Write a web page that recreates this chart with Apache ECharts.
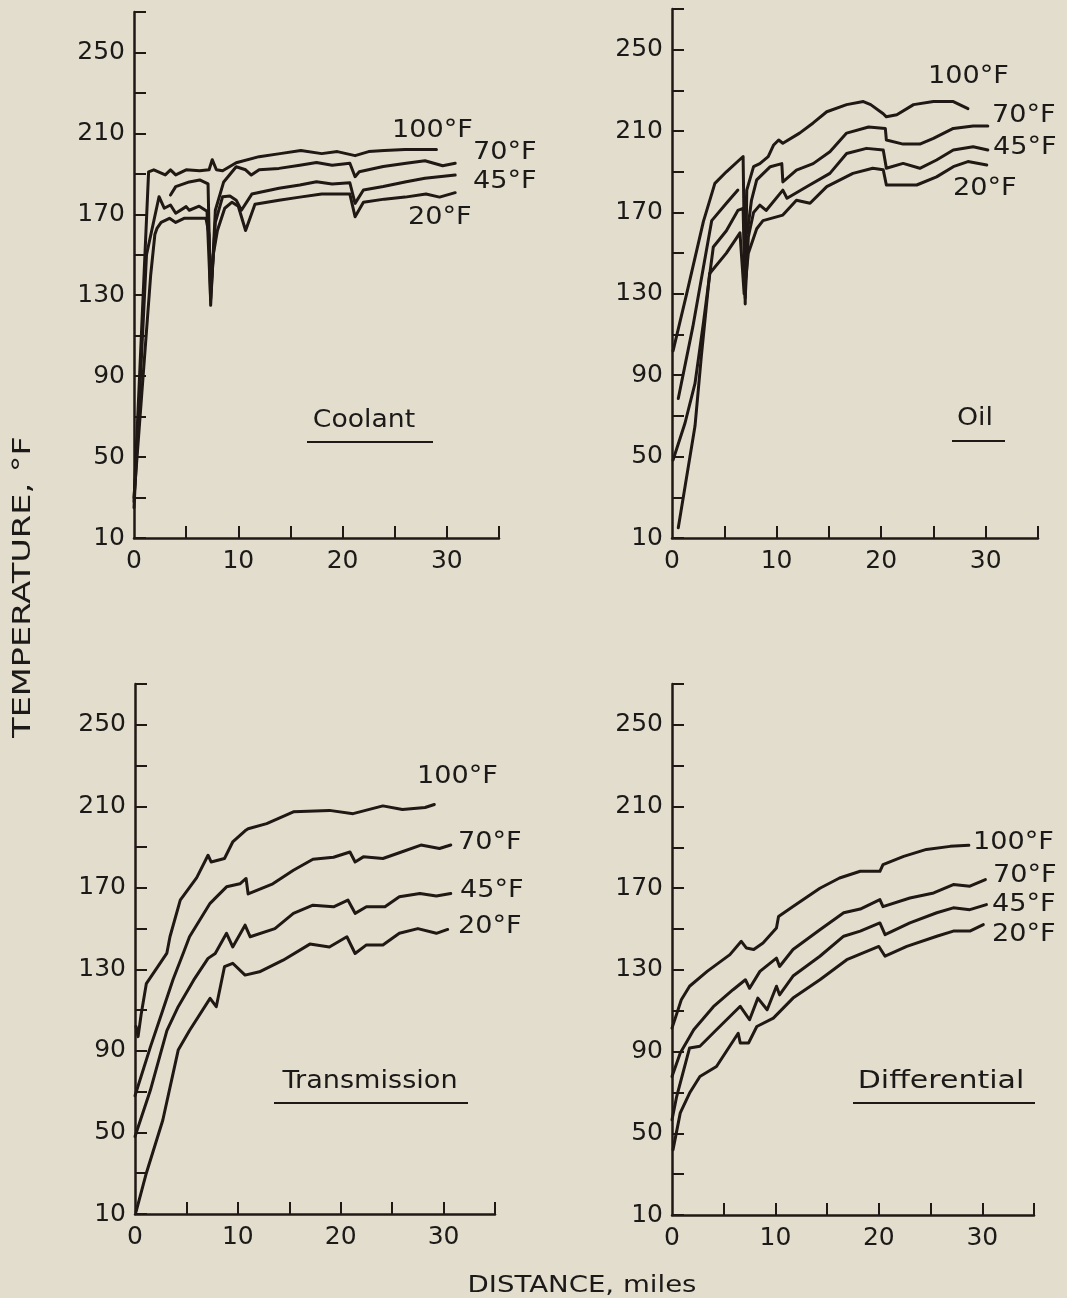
<!DOCTYPE html>
<html>
<head>
<meta charset="utf-8">
<script src="https://cdn.jsdelivr.net/npm/echarts@6/dist/echarts.min.js"></script>
<style>
html,body{margin:0;padding:0;background:#e3ddcd;}
#chart{width:1067px;height:1298px;}
</style>
</head>
<body>
<div id="chart"></div>
<script>
// ---- axis ticks / labels ----
const xTickValues = [5, 10, 15, 20, 25, 30, 35];
const xLabelValues = [0, 10, 20, 30];
const yTickValues = [10, 30, 50, 70, 90, 110, 130, 150, 170, 190, 210, 230, 250, 270];
const yLabelValues = [10, 50, 90, 130, 170, 210, 250];
const seriesNames = ['100°F', '70°F', '45°F', '20°F'];
const panelNames = ['Coolant', 'Oil', 'Transmission', 'Differential'];

// ---- Coolant [miles, °F] ----
const coolant100 = [[0,28],[1.4,191],[1.9,192],[3.0,189.5],[3.5,192],[4.0,189.5],[5.0,192],[6.3,191.5],[7.2,192],[7.5,197],[7.9,192],[8.5,191.5],[9.8,195.5],[12,198.5],[14,200],[16,201.5],[18,200],[19.5,201],[21.2,199],[22.5,201],[24,201.5],[26,202],[29,202]];
const coolant70 = [[3.5,179.5],[4.0,183.7],[5.3,186],[6.3,187],[7.1,185],[7.35,125],[7.8,172],[8.6,186],[9.8,193.5],[10.7,192],[11.25,189.4],[12.0,192],[13.9,192.7],[15.9,194.3],[17.5,195.6],[19.0,194.3],[20.7,195.2],[21.2,188.6],[21.6,191],[23.9,193.6],[26.1,195.2],[27.9,196.5],[29.6,194],[30.8,195.2]];
const coolant45 = [[0,25],[1.2,150],[2.4,178.7],[2.9,173],[3.5,174.6],[4.0,170.5],[5.0,173.8],[5.3,172],[6.25,174],[7.0,171.5],[7.35,128],[7.8,166],[8.5,178.7],[9.2,179],[9.8,177],[10.3,172],[11.3,180],[13.9,182.9],[15.9,184.5],[17.5,186.1],[19.0,185],[20.7,185.6],[21.2,175.4],[22.0,182],[23.9,183.7],[26.1,186.1],[27.9,187.8],[30.8,189.4]];
const coolant20 = [[0,30],[1.6,140],[2.0,160],[2.2,163],[2.6,166],[3.4,168],[4.0,166],[4.8,168],[6.9,168],[7.2,160],[7.35,132],[7.6,150],[8.0,162],[8.7,173],[9.4,176],[10.0,174],[10.7,162],[11.6,175],[13.9,177],[15.9,178.5],[18,180],[20.7,180],[21.2,168.8],[22,176],[24,177.5],[26,178.5],[28,180],[29.3,178.5],[30.8,180.7]];

// ---- Oil ----
const oil100 = [[0.1,102],[1.4,130],[3.0,165.5],[4.1,184.3],[5.2,190],[6.8,197.5],[7.0,125],[7.15,181],[7.8,192.5],[8.4,194],[9.2,197.4],[9.7,203],[10.2,205.6],[10.6,204],[12.2,209],[13.5,214],[14.8,219.5],[16.7,223],[18.3,224.5],[19.0,223],[20.2,218.5],[20.5,217],[21.5,218],[23.1,223],[25.0,224.5],[26.9,224.5],[28.3,221]];
const oil70 = [[0.6,78.6],[2.0,114],[3.0,143],[3.8,166],[5.2,174.5],[6.3,181],[6.6,null],[7.2,160],[7.6,176],[8.1,186],[9.4,192.5],[10.5,194],[10.6,185],[11.9,190.8],[13.5,194],[15.1,199.8],[16.7,209],[18.8,212],[20.4,211.3],[20.5,205.6],[22.1,203.6],[23.7,203.6],[25.0,206.4],[26.9,211.3],[28.8,212.5],[30.2,212.5]];
const oil45 = [[0.1,48.3],[1.24,66.4],[2.2,86],[3.0,115.6],[3.95,153],[5.2,161],[6.3,171],[6.8,172],[7.0,128],[7.3,158],[7.8,170],[8.4,173.6],[9.0,171],[10.6,181],[11.0,177],[13.0,183],[15.1,189.2],[16.7,199],[18.6,201.5],[20.2,200.7],[20.5,191.7],[22.1,194.1],[23.7,191.7],[25.3,195.8],[26.9,200.7],[28.8,202.3],[30.2,200.7]];
const oil20 = [[0.6,15],[2.2,65],[2.8,99],[3.6,140],[5.2,150],[6.5,160],[6.9,130],[7.3,150],[8.1,162],[8.7,166],[10.6,168.7],[11.9,176],[13.2,174.5],[14.8,182.7],[17.3,189.2],[19.2,191.7],[20.2,191],[20.5,183.5],[23.4,183.5],[25.3,187.5],[26.9,192.5],[28.3,195],[30.1,193.3]];

// ---- Transmission ----
const trans100 = [[0.1,102],[0.3,97],[0.6,108],[1.1,123],[2.3,132],[3.1,138],[3.4,146],[4.4,164],[6.0,175],[7.1,186],[7.4,182.7],[8.7,184.4],[9.5,192.5],[10.7,198],[11.0,199],[12.8,201.5],[15.4,207.3],[18.9,208],[21.2,206.4],[24.1,210.2],[26.0,208.4],[28.2,209.4],[29.1,210.9]];
const trans70 = [[0,68],[1.5,92],[2.7,110],[3.7,125],[4.7,138],[5.3,146],[7.3,162.4],[8.9,170.5],[10.2,172],[10.8,174.6],[11.0,167],[13.4,172],[15.4,178.6],[17.3,184],[19.3,185],[20.9,187.6],[21.4,182.7],[22.2,185.2],[24.1,184.4],[25.7,187.2],[27.8,191],[29.6,189.3],[30.7,191]];
const trans45 = [[0,48],[1.5,70.8],[3.1,100],[4.2,111.7],[5.7,124.7],[7.1,135.4],[7.8,137.8],[8.9,147.7],[9.5,141],[10.7,151.7],[11.2,146],[13.6,150],[15.4,157.5],[17.3,161.5],[19.3,160.7],[20.7,164],[21.4,157.5],[22.5,160.7],[24.3,160.7],[25.7,165.6],[27.7,167.2],[29.3,166],[30.7,167.2]];
const trans20 = [[0.1,11],[1.1,30],[2.7,56],[4.2,90.4],[5.3,100],[7.3,115.8],[7.9,111.7],[8.7,131.3],[9.5,133],[10.7,127.2],[12.1,128.8],[14.4,134.5],[17.0,142.4],[18.9,141],[20.6,146],[21.4,137.8],[22.5,142],[24.1,142],[25.7,147.7],[27.5,150],[29.3,147.7],[30.4,149.6]];

// ---- Differential ----
const diff100 = [[0,101.5],[0.9,115.4],[1.7,122],[3.4,129.3],[5.6,137.5],[6.7,144],[7.2,140.7],[7.9,140],[8.8,143.2],[10.1,150.5],[10.3,156.2],[11.7,161],[14.3,170],[16.2,175],[18.2,178.3],[20.1,178.3],[20.4,181.6],[22.4,185.6],[24.6,189],[26.9,190.5],[28.7,191]];
const diff70 = [[0,77.8],[0.8,89.3],[2.1,100.7],[4.0,112],[5.9,120.3],[7.1,125.2],[7.5,121],[8.5,129.3],[10.1,135.8],[10.4,131.7],[11.7,140],[14.3,149.7],[16.6,158],[18.2,159.8],[20.1,164.4],[20.4,161],[23.0,165.2],[25.3,167.7],[27.2,171.8],[28.8,171],[30.3,174.2]];
const diff45 = [[0,56.6],[0.45,68],[1.7,91.8],[2.7,92.6],[4.3,100.7],[6.6,112.2],[7.5,105.6],[8.3,116.2],[9.2,110.5],[10.1,122],[10.4,117.8],[11.7,127],[14.3,136.7],[16.6,146.5],[18.2,149],[20.1,153],[20.6,147.3],[23.0,153],[25.6,158],[27.2,160.4],[28.8,159.5],[30.4,162]];
const diff20 = [[0.1,42],[0.8,60],[1.7,69.7],[2.7,77.8],[4.3,82.7],[6.4,99],[6.6,94.2],[7.4,94.2],[8.2,102.3],[9.8,106.4],[11.7,116.2],[14.3,125.2],[16.9,135],[20.0,141.5],[20.6,136.7],[22.7,141.5],[25.6,146.5],[27.2,149],[28.8,149],[30.1,152.2]];

const panelSeries = [
  [coolant100, coolant70, coolant45, coolant20],
  [oil100, oil70, oil45, oil20],
  [trans100, trans70, trans45, trans20],
  [diff100, diff70, diff45, diff20]
];

// ---- layout / style ----
const INK = '#1f1814';
const TXT = '#1c1a18';
const FONT = '"DejaVu Sans", sans-serif';
const grids = [
  {left: 134, top: 12, width: 365, height: 526},
  {left: 672, top: 9, width: 366, height: 529},
  {left: 135, top: 684, width: 360, height: 530},
  {left: 672, top: 684, width: 362, height: 531}
];
const curveLabelPos = [
  [[392,131],[473,153],[473,182],[408,218]],
  [[928,77],[992,116],[993,148],[953,189]],
  [[417,777],[458,843],[460,891],[458,927]],
  [[973,843],[993,876],[992,905],[992,935]]
];
const titlePos = [
  {cx: 364, cy: 421, sx: 1.11, ux1: 307, ux2: 433, uy: 442},
  {cx: 975, cy: 419, sx: 1.12, ux1: 952, ux2: 1005, uy: 441},
  {cx: 370, cy: 1082, sx: 1.13, ux1: 274, ux2: 468, uy: 1103},
  {cx: 941, cy: 1082, sx: 1.25, ux1: 853, ux2: 1035, uy: 1103}
];

const xAxes = [], yAxes = [], series = [], graphic = [];
grids.forEach((g, i) => {
  xAxes.push({
    type: 'value', gridIndex: i, min: 0, max: 35,
    axisLine: {show: true, onZero: false, lineStyle: {color: INK, width: 2.5}},
    axisTick: {show: true, inside: true, length: 12, lineStyle: {color: INK, width: 2}, customValues: xTickValues},
    axisLabel: {show: true, customValues: xLabelValues, color: TXT, fontSize: 25, fontFamily: FONT, margin: 11},
    splitLine: {show: false}
  });
  yAxes.push({
    type: 'value', gridIndex: i, min: 10, max: 270,
    axisLine: {show: true, onZero: false, lineStyle: {color: INK, width: 2.5}},
    axisTick: {show: true, inside: true, length: 12, lineStyle: {color: INK, width: 2}, customValues: yTickValues},
    axisLabel: {show: true, customValues: yLabelValues, color: TXT, fontSize: 25, fontFamily: FONT, margin: 9},
    splitLine: {show: false}
  });
  panelSeries[i].forEach((arr, k) => {
    series.push({
      type: 'line', name: panelNames[i] + ' ' + seriesNames[k],
      xAxisIndex: i, yAxisIndex: i,
      data: arr.map(p => [p[0], p[1] === null ? '-' : p[1]]),
      showSymbol: false, symbol: 'none', connectNulls: false,
      lineStyle: {color: INK, width: 3, join: 'round', cap: 'round'},
      clip: true, silent: true
    });
    const lp = curveLabelPos[i][k];
    graphic.push({
      type: 'text', x: lp[0], y: lp[1], scaleX: 1.13,
      style: {text: seriesNames[k], font: '24px ' + FONT, fill: TXT, align: 'left', verticalAlign: 'middle'}
    });
  });
  const t = titlePos[i];
  graphic.push({
    type: 'text', x: t.cx, y: t.cy, scaleX: t.sx,
    style: {text: panelNames[i], font: '24px ' + FONT, fill: TXT, align: 'center', verticalAlign: 'middle'}
  });
  graphic.push({
    type: 'line', shape: {x1: t.ux1, y1: t.uy, x2: t.ux2, y2: t.uy},
    style: {stroke: INK, lineWidth: 2}
  });
});

graphic.push({
  type: 'text', x: 24, y: 587, rotation: Math.PI / 2, scaleX: 1.4,
  style: {text: 'TEMPERATURE, °F', font: '24px ' + FONT, fill: TXT, align: 'center', verticalAlign: 'middle'}
});
graphic.push({
  type: 'text', x: 582, y: 1286, scaleX: 1.2,
  style: {text: 'DISTANCE, miles', font: '23px ' + FONT, fill: TXT, align: 'center', verticalAlign: 'middle'}
});

const chart = echarts.init(document.getElementById('chart'), null, {renderer: 'canvas'});
chart.setOption({
  backgroundColor: '#e3ddcd',
  animation: false,
  grid: grids,
  xAxis: xAxes,
  yAxis: yAxes,
  series: series,
  graphic: graphic
});
</script>
</body>
</html>
